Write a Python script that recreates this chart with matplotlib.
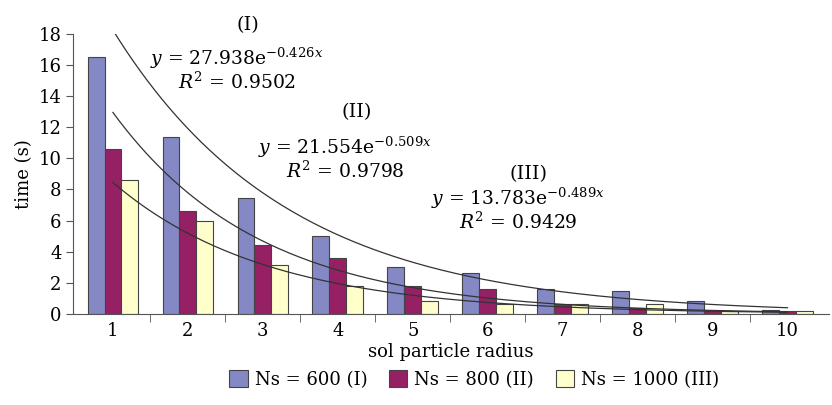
import numpy as np
import matplotlib
matplotlib.use("Agg")
import matplotlib.pyplot as plt

plt.rcParams['font.family'] = ['DejaVu Serif']
plt.rcParams['mathtext.fontset'] = 'dejavuserif'

# data
radius = [1, 2, 3, 4, 5, 6, 7, 8, 9, 10]
ns600 = [16.5, 11.4, 7.45, 5.0, 3.0, 2.65, 1.6, 1.45, 0.8, 0.25]
ns800 = [10.6, 6.6, 4.4, 3.6, 1.8, 1.6, 0.65, 0.35, 0.2, 0.2]
ns1000 = [8.6, 6.0, 3.15, 1.8, 0.8, 0.65, 0.65, 0.65, 0.2, 0.2]

# exponential trend lines as printed on the chart
fit_a = [27.938, 21.554, 13.783]
fit_b = [-0.426, -0.509, -0.489]
fit_r2 = [0.9502, 0.9798, 0.9429]

colors = ['#8488C4', '#962064', '#FFFFCC']
labels = ['Ns = 600 (I)', 'Ns = 800 (II)', 'Ns = 1000 (III)']

fig = plt.figure(figsize=(8.32, 4.05), dpi=100)
ax = fig.add_axes([0.088, 0.225, 0.908, 0.691])

x = np.array(radius)
w = 0.225
for i, vals in enumerate([ns600, ns800, ns1000]):
    ax.bar(x + (i - 1) * w, vals, width=w, color=colors[i], edgecolor='#444444',
           linewidth=0.8, label=labels[i])

xs = np.linspace(1, 10, 200)
for a, b in zip(fit_a, fit_b):
    ax.plot(xs, a * np.exp(b * xs), color='#333333', linewidth=0.9)

ax.set_xlim(0.47, 10.55)
ax.set_ylim(0, 18)
ax.set_yticks(range(0, 19, 2))
ax.set_xticks(radius)
ax.set_xticks(np.arange(1.5, 10, 1), minor=True)
ax.tick_params(axis='x', which='major', length=0, labelsize=13, pad=6)
ax.tick_params(axis='x', which='minor', length=6, color='#555555')
ax.tick_params(axis='y', labelsize=13, length=5, color='#555555')
for s in ['top', 'right']:
    ax.spines[s].set_visible(False)
ax.spines['left'].set_color('#555555')
ax.spines['bottom'].set_color('#555555')

ax.set_xlabel('sol particle radius', fontsize=13, labelpad=2)
ax.set_ylabel('time (s)', fontsize=13, labelpad=4)

# fit annotations
ann_x = [2.65, 4.1, 6.4]
ann_y = [(18.6, 16.4, 14.9), (13.0, 10.7, 9.2), (9.0, 7.4, 5.9)]
roman = ['(I)', '(II)', '(III)']
for xp, (y1, y2, y3), r, a, b, r2 in zip(ann_x, ann_y, roman, fit_a, fit_b, fit_r2):
    ax.text(xp + 0.15, y1, r, ha='center', va='center', fontsize=14, clip_on=False)
    ax.text(xp, y2, r'$y$ = %.3fe$^{%.3f x}$' % (a, b), ha='center', va='center', fontsize=13.5)
    ax.text(xp, y3, r'$R^2$ = %.4f' % r2, ha='center', va='center', fontsize=13.5)

fig.legend(loc='lower center', bbox_to_anchor=(0.57, 0.0), ncol=3, frameon=False,
           fontsize=13, handlelength=1.0, handleheight=1.0, columnspacing=1.2,
           handletextpad=0.4)

fig.savefig('out.png', dpi=100)
